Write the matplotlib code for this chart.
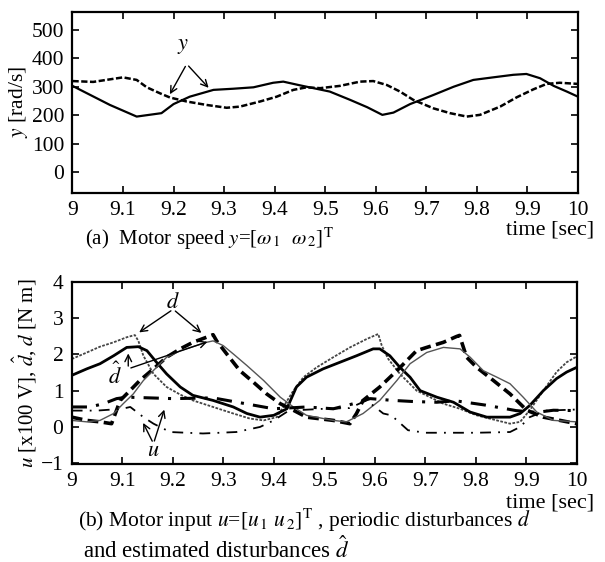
import numpy as np
import matplotlib
matplotlib.use("Agg")
import matplotlib.pyplot as plt

plt.rcParams['font.family'] = ['Liberation Serif', 'DejaVu Serif']
plt.rcParams['mathtext.fontset'] = 'stix'

# ------------------------------------------------------------------ #
#  Data                                         #
# ------------------------------------------------------------------ #
# (a) motor speed, omega_1 (solid) and omega_2 (dashed)
t_w1 = [9.0, 9.074, 9.127, 9.176, 9.2, 9.232, 9.279, 9.318, 9.358, 9.397, 9.417,
        9.45, 9.509, 9.549, 9.583, 9.613, 9.635, 9.668, 9.714, 9.754, 9.793,
        9.832, 9.872, 9.898, 9.925, 9.952, 9.978, 10.0]
w1 = [303, 236, 195, 207, 239, 265, 289, 293, 298, 314, 318,
      305, 283, 254, 228, 201, 209, 239, 271, 300, 324,
      333, 342, 345, 330, 303, 283, 265]

t_w2 = [9.0, 9.041, 9.074, 9.1, 9.127, 9.147, 9.173, 9.193, 9.226, 9.265, 9.305,
        9.331, 9.371, 9.404, 9.437, 9.463, 9.49, 9.529, 9.569, 9.595, 9.622,
        9.648, 9.674, 9.714, 9.747, 9.78, 9.806, 9.846, 9.879, 9.912, 9.938,
        9.964, 10.0]
w2 = [320, 317, 326, 333, 324, 298, 277, 262, 248, 236, 226,
      230, 248, 265, 289, 298, 295, 303, 318, 320, 306,
      283, 254, 224, 207, 195, 201, 230, 263, 291, 310,
      314, 310]

# (b) periodic disturbance d1 (fine dashed) and d2 (bold dashed)
t_d1 = [9.0, 9.03, 9.056, 9.083, 9.109, 9.125, 9.132, 9.142, 9.162, 9.188, 9.215,
        9.24, 9.28, 9.32, 9.353, 9.38, 9.406, 9.419, 9.439, 9.459, 9.485,
        9.518, 9.551, 9.584, 9.607, 9.614, 9.627, 9.65, 9.683, 9.736, 9.769,
        9.802, 9.842, 9.868, 9.888, 9.907, 9.934, 9.96, 9.98, 10.0]
d1 = [1.87, 2.05, 2.21, 2.33, 2.47, 2.53, 2.37, 1.96, 1.46, 1.10, 0.89,
      0.73, 0.55, 0.37, 0.23, 0.18, 0.27, 0.55, 1.0, 1.37, 1.64,
      1.92, 2.19, 2.42, 2.56, 2.24, 1.87, 1.46, 1.0, 0.64, 0.50,
      0.32, 0.18, 0.09, 0.14, 0.46, 1.0, 1.51, 1.78, 1.94]

t_d2 = [9.0, 9.03, 9.056, 9.079, 9.096, 9.109, 9.135, 9.162, 9.188, 9.215, 9.24,
        9.267, 9.28, 9.287, 9.307, 9.333, 9.36, 9.386, 9.413, 9.439, 9.465,
        9.518, 9.551, 9.564, 9.577, 9.61, 9.644, 9.683, 9.703, 9.736, 9.762,
        9.768, 9.782, 9.802, 9.835, 9.868, 9.901, 9.934, 9.967, 10.0]
d2 = [0.27, 0.18, 0.14, 0.09, 0.73, 0.91, 1.28, 1.60, 1.92, 2.15, 2.33,
      2.47, 2.54, 2.37, 2.01, 1.55, 1.23, 0.91, 0.64, 0.46, 0.27,
      0.18, 0.09, 0.37, 0.73, 1.10, 1.55, 2.10, 2.19, 2.33, 2.49,
      2.52, 1.92, 1.64, 1.28, 0.91, 0.46, 0.27, 0.18, 0.09]

# estimated disturbances d_hat1 (bold solid) and d_hat2 (thin solid)
t_dh1 = [9.0, 9.03, 9.056, 9.083, 9.109, 9.132, 9.149, 9.168, 9.188, 9.215, 9.24,
         9.28, 9.32, 9.347, 9.373, 9.4, 9.426, 9.445, 9.465, 9.498, 9.531,
         9.564, 9.597, 9.61, 9.63, 9.65, 9.67, 9.69, 9.723, 9.756, 9.789,
         9.822, 9.868, 9.888, 9.907, 9.934, 9.96, 9.98, 10.0]
dh1 = [1.42, 1.60, 1.74, 1.96, 2.19, 2.21, 2.10, 1.78, 1.46, 1.10, 0.87,
       0.73, 0.55, 0.37, 0.27, 0.32, 0.50, 1.10, 1.37, 1.60, 1.78,
       1.96, 2.15, 2.15, 1.96, 1.64, 1.37, 1.0, 0.82, 0.68, 0.41,
       0.27, 0.27, 0.37, 0.59, 1.0, 1.33, 1.51, 1.64]

t_dh2 = [9.0, 9.03, 9.056, 9.083, 9.102, 9.122, 9.142, 9.168, 9.188, 9.215, 9.24,
         9.267, 9.28, 9.3, 9.32, 9.347, 9.38, 9.413, 9.439, 9.465, 9.518,
         9.544, 9.577, 9.61, 9.644, 9.67, 9.703, 9.736, 9.769, 9.789, 9.815,
         9.842, 9.868, 9.894, 9.921, 9.954, 10.0]
dh2 = [0.18, 0.14, 0.18, 0.37, 0.64, 0.91, 1.28, 1.64, 1.92, 2.10, 2.21,
       2.33, 2.37, 2.24, 2.01, 1.69, 1.28, 0.82, 0.55, 0.32, 0.18,
       0.14, 0.37, 0.73, 1.28, 1.74, 2.05, 2.19, 2.15, 1.92, 1.55,
       1.37, 1.19, 0.82, 0.41, 0.18, 0.14]

# motor inputs u1 (bold dash-dot) and u2 (thin dash-dot)
t_u1 = [9.0, 9.036, 9.063, 9.089, 9.109, 9.155, 9.2, 9.28, 9.34, 9.40, 9.465,
        9.518, 9.558, 9.591, 9.637, 9.676, 9.723, 9.76, 9.82, 9.88, 9.92,
        9.954, 10.0]
u1 = [0.55, 0.55, 0.64, 0.78, 0.82, 0.80, 0.78, 0.80, 0.65, 0.50, 0.55,
      0.50, 0.64, 0.78, 0.73, 0.70, 0.68, 0.72, 0.60, 0.45, 0.40,
      0.46, 0.45]

t_u2 = [9.0, 9.05, 9.1, 9.116, 9.142, 9.162, 9.195, 9.26, 9.326, 9.373, 9.4,
        9.43, 9.5, 9.55, 9.584, 9.617, 9.633, 9.666, 9.7, 9.8, 9.868,
        9.888, 9.907, 9.94, 10.0]
u2 = [0.45, 0.45, 0.50, 0.55, 0.27, 0.09, -0.14, -0.18, -0.14, 0.0, 0.18,
      0.45, 0.50, 0.52, 0.73, 0.37, 0.32, -0.09, -0.16, -0.16, -0.14,
      0.0, 0.27, 0.45, 0.48]

x_ticks = [9.0, 9.1, 9.2, 9.3, 9.4, 9.5, 9.6, 9.7, 9.8, 9.9, 10.0]
x_labels = ["9", "9.1", "9.2", "9.3", "9.4", "9.5", "9.6", "9.7", "9.8", "9.9", "10"]
y_ticks_a = [0, 100, 200, 300, 400, 500]
y_ticks_b = [-1, 0, 1, 2, 3, 4]

# ------------------------------------------------------------------ #
#  Figure                                                             #
# ------------------------------------------------------------------ #
fig = plt.figure(figsize=(6.05, 5.62), dpi=100)
ax1 = fig.add_axes([0.1198, 0.6566, 0.8355, 0.3225])
ax2 = fig.add_axes([0.1185, 0.1744, 0.8347, 0.3244])

for ax in (ax1, ax2):
    ax.set_xlim(9, 10)
    ax.set_xticks(x_ticks)
    ax.set_xticklabels(x_labels)
    ax.tick_params(direction='in', top=True, right=True, length=5, width=1.2,
                   labelsize=15.5, pad=6)
    for s in ax.spines.values():
        s.set_linewidth(1.6)

# --- (a) ---
ax1.plot(t_w1, w1, color='black', lw=1.6)
ax1.plot(t_w2, w2, color='black', lw=1.8, ls=(0, (2.5, 1)))
ax1.set_ylim(-74, 564)
ax1.set_yticks(y_ticks_a)
ax1.set_ylabel("$y$ [rad/s]", fontsize=15.5, labelpad=1)

ax1.text(9.218, 441, "$y$", fontsize=16, ha='center', va='center')
for tx, vy in [(9.19, 265), (9.273, 289)]:
    ax1.annotate("", xy=(tx, vy), xytext=(9.226, 380),
                 arrowprops=dict(arrowstyle='->', lw=1.0, color='black',
                                 mutation_scale=12))

# --- (b) ---
ax2.plot(t_d1, d1, color='#444444', lw=1.3, ls=(0, (1.5, 0.8)))
ax2.plot(t_d2, d2, color='black', lw=2.6, ls=(0, (3, 1.5)))
ax2.plot(t_dh1, dh1, color='black', lw=2.0)
ax2.plot(t_dh2, dh2, color='#555555', lw=1.0)
ax2.plot(t_u1, u1, color='black', lw=2.2, ls=(0, (5, 3, 1, 3)))
ax2.plot(t_u2, u2, color='black', lw=1.3, ls=(0, (6, 4, 1, 4)))
ax2.set_ylim(-1.02, 4.0)
ax2.set_yticks(y_ticks_b)
ax2.set_ylabel(r"$u$ [x100 V], $\hat{d}$, $d$ [N m]", fontsize=15, labelpad=1)

arr = dict(arrowstyle='->', lw=1.0, color='black', mutation_scale=12)
ax2.text(9.201, 3.42, "$d$", fontsize=16, ha='center', va='center')
ax2.annotate("", xy=(9.129, 2.56), xytext=(9.201, 3.24), arrowprops=arr)
ax2.annotate("", xy=(9.261, 2.54), xytext=(9.201, 3.24), arrowprops=arr)
ax2.text(9.086, 1.42, r"$\hat{d}$", fontsize=16, ha='center', va='center')
ax2.annotate("", xy=(9.112, 2.10), xytext=(9.112, 1.60), arrowprops=arr)
ax2.annotate("", xy=(9.274, 2.37), xytext=(9.112, 1.60), arrowprops=arr)
ax2.text(9.162, -0.68, "$u$", fontsize=16, ha='center', va='center')
ax2.annotate("", xy=(9.139, 0.18), xytext=(9.162, -0.46), arrowprops=arr)
ax2.annotate("", xy=(9.185, 0.55), xytext=(9.162, -0.46), arrowprops=arr)

# axis titles and captions
fig.text(0.982, 0.591, "time [sec]", fontsize=16, ha='right', va='center')
fig.text(0.982, 0.105, "time [sec]", fontsize=16, ha='right', va='center')
fig.text(0.140, 0.564, r"(a)  Motor speed $y$=[$\omega_{\,1}$  $\omega_{\,2}$]$^{\mathrm{T}}$",
         fontsize=15, ha='left', va='baseline')
fig.text(0.129, 0.062, r"(b) Motor input $u$=[$u_{\,1}$ $u_{\,2}$]$^{\mathrm{T}}$ , periodic disturbances $d$",
         fontsize=15.5, ha='left', va='baseline')
fig.text(0.137, 0.008, r"and estimated disturbances $\hat{d}$",
         fontsize=16.5, ha='left', va='baseline')

fig.savefig("out.png", dpi=100)
